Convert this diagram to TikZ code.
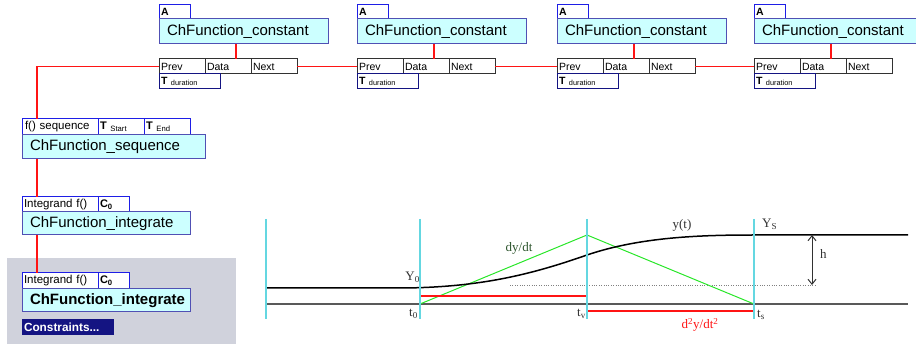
\documentclass[tikz,border=0pt]{standalone}
\usepackage{fontspec}
\setmainfont{Liberation Sans}
\newfontfamily\plotfont{Liberation Serif}
\usepackage{tikz}
\usetikzlibrary{arrows.meta,positioning}
\definecolor{Cyanette}{RGB}{204,255,255}
\definecolor{Myrtille}{RGB}{80,80,180}
\definecolor{Bleuet}{RGB}{30,30,230}
\definecolor{Marine}{RGB}{20,20,130}
\definecolor{Ardoise}{RGB}{50,50,50}
\definecolor{Brume}{RGB}{208,210,220}
\definecolor{Lagon}{RGB}{100,215,225}
\definecolor{Prairie}{RGB}{40,230,40}
\definecolor{Sapin}{RGB}{45,85,45}
\definecolor{Cerise}{RGB}{255,20,20}

\begin{document}
\begin{tikzpicture}[x=1pt,y=-1pt,
  big/.style={draw=Myrtille,fill=Cyanette,line width=1pt,anchor=north west,outer sep=0pt,
    inner sep=0pt,inner xsep=8pt,minimum height=25pt,align=left,font=\fontsize{15}{17}\selectfont},
  field/.style={draw=Bleuet,fill=white,line width=1pt,anchor=north west,outer sep=0pt,
    inner sep=0pt,inner xsep=2pt,minimum height=15pt,align=left,font=\fontsize{10.5}{12}\selectfont},
  cell/.style={field,draw=Ardoise,text width=42pt},
  link/.style={Cerise,line width=1.2pt},
  tick/.style={Lagon,line width=1.2pt},
  lbl/.style={font=\plotfont\fontsize{13}{15}\selectfont,inner sep=0pt}]
\useasboundingbox (0,0) rectangle (916,344);
\clip (0,0) rectangle (916,344);
%
% chain of constants
\foreach \x [count=\i] in {159,357,557,754}{
  \node[field,text width=27pt,minimum height=14pt] (a\i) at (\x,5) {\textbf{A}};
  \node[big,text width=153pt] (c\i) at (\x,19) {ChFunction\_constant};
  \node[cell] (p\i) at (\x,59) {Prev};
  \node[cell] (d\i) at (\x+46,59) {Data};
  \node[cell] (n\i) at (\x+92,59) {Next};
  \node[field,draw=Marine,text width=57pt] (t\i) at (\x,74) {\textbf{T} \textsubscript{duration}};
  \draw[link] ([xshift=77pt]c\i.south west) -- ([xshift=31pt]d\i.north west);
}
\draw[link] (n1.east) -- (p2.west);
\draw[link] (n2.east) -- (p3.west);
\draw[link] (n3.east) -- (p4.west);
%
% sequence
\node[field,text width=70pt,inner xsep=3pt,minimum height=16pt,font=\fontsize{11.5}{13}\selectfont] (s1) at (22,119) {f() sequence};
\node[field,text width=42pt,minimum height=16pt,font=\fontsize{11}{13}\selectfont] (s2) at (98,119) {\textbf{T} \textsubscript{Start}};
\node[field,text width=42pt,minimum height=16pt,font=\fontsize{11}{13}\selectfont] (s3) at (144,119) {\textbf{T} \textsubscript{End}};
\node[big,text width=167pt,minimum height=24pt] (seq) at (22,135) {ChFunction\_sequence};
\draw[link] (p1.west) -| ([xshift=15pt]s1.north west);
%
% integrate
\node[field,text width=72pt,font=\fontsize{11.5}{13}\selectfont] (i1) at (22,197) {Integrand f()};
\node[field,text width=27pt,font=\fontsize{11}{13}\selectfont] (k1) at (98,197) {\textbf{C\textsubscript{0}}};
\node[big,text width=152pt,minimum height=23pt] (int1) at (22,212) {ChFunction\_integrate};
\draw[link] ([xshift=15pt]seq.south west) -- ([xshift=15pt]i1.north west);
%
\fill[Brume] (7,258) rectangle (236,344);
\node[field,text width=72pt,minimum height=16pt,font=\fontsize{11.5}{13}\selectfont] (i2) at (22,273) {Integrand f()};
\node[field,text width=27pt,minimum height=16pt,font=\fontsize{11}{13}\selectfont] (k2) at (98,273) {\textbf{C\textsubscript{0}}};
\node[big,text width=152pt,minimum height=23pt,font=\fontsize{15}{17}\selectfont\bfseries] (int2) at (22,289) {ChFunction\_integrate};
\node[field,draw=none,fill=Marine,text=white,text width=88pt,minimum height=16pt,font=\fontsize{11.8}{13}\selectfont\bfseries] (cons) at (22,319) {Constraints...};
\draw[link] ([xshift=15pt]int1.south west) -- ([xshift=15pt]i2.north west);
%
% profile y(t)
\draw[gray!70!black,line width=1.2pt] (266,304) -- (908,304);
\draw[gray,dotted] (510,285) -- (817,285);
\draw[Prairie,line width=1pt] (420,304) -- (587,235) -- (754,304);
\draw[Cerise,line width=1.2pt] (420,296) -- (587,296);
\draw[Cerise,line width=1.2pt] (587,311) -- (754,311);
\draw[line width=1.5pt] (266,288) -- (405,288) .. controls (480,287) and (530,275) .. (587,255)
  .. controls (640,237) and (700,235) .. (754,235) -- (908,235);
\draw[{Straight Barb[length=5pt,width=8pt]}-{Straight Barb[length=5pt,width=8pt]},line width=1pt,Ardoise] (812,235) -- (812,285);
\foreach \x in {266,420,587,754} \draw[tick] (\x,219) -- (\x,319);
%
\node[lbl,anchor=base east,text=Ardoise] (y0) at (420,281) {Y\textsubscript{0}};
\node[lbl,anchor=base west,text=Ardoise] (ys) at (762,228) {Y\textsubscript{S}};
\node[lbl,anchor=base,text=Ardoise] (yt) at (682,229) {y(t)};
\node[lbl,anchor=base,text=Sapin] (dy) at (519,252) {dy/dt};
\node[lbl,anchor=base west,text=Ardoise] (hh) at (820,259) {h};
\node[lbl,anchor=base,text=Cerise] (dd) at (700,329) {d\textsuperscript{2}y/dt\textsuperscript{2}};
\node[lbl,anchor=base east,text=Ardoise] (t0) at (418,317) {t\textsubscript{0}};
\node[lbl,anchor=base east,text=Ardoise] (tv) at (586,317) {t\textsubscript{v}};
\node[lbl,anchor=base west,text=Ardoise] (ts) at (757,318) {t\textsubscript{s}};
\end{tikzpicture}
\end{document}
